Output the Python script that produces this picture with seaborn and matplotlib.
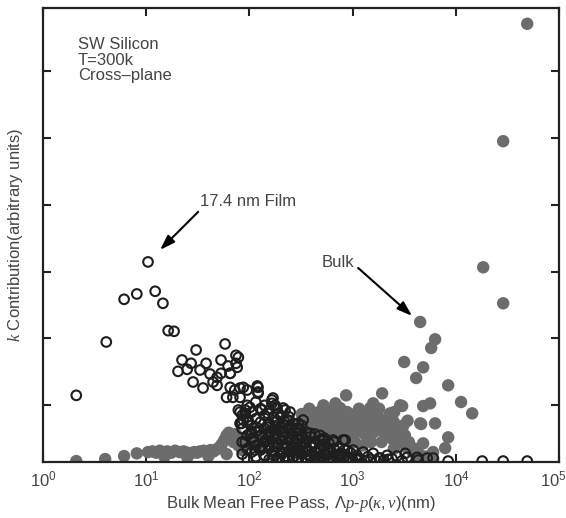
import matplotlib
matplotlib.use("Agg")
import matplotlib.pyplot as plt
import matplotlib.transforms as mtransforms
import seaborn as sns
from matplotlib.ticker import NullLocator, LogFormatterMathtext

# ---------------- data ----------------
# Bulk silicon: mean free path (nm) and k contribution (arbitrary units)
bulk_x = [48980, 28650, 18360, 28650, 4500, 6280, 5750, 3150, 4810, 4114,
          8400, 11200, 14350, 5620, 4810, 6280, 4600, 8400, 7860, 4810,
          1928, 3010, 2303, 2520, 2303, 863, 755, 1577, 2880, 1318,
          2303, 4500, 565, 483, 1180, 1475, 2154, 4300, 6010, 5260,
          2.1, 4.0, 6.1, 8.1, 10.4, 11.5, 12.5, 13.5, 14.5, 16,
          17.5, 19, 21, 23, 25, 27, 29, 31, 33, 36,
          39, 42, 45, 48, 51, 54, 57, 60, 63, 66,
          70, 74, 78, 82, 88, 95, 100, 110, 120, 135,
          150, 170, 190, 210, 240, 270, 300, 330, 360, 400,
          450, 500, 540, 600, 650, 700, 760, 810, 900, 950,
          1000, 1100, 1200, 1300, 1400, 1700, 1850, 2000, 2150, 2400,
          2700, 3200, 3500, 4000, 4400, 5000, 6000, 15, 25, 40,
          60, 85, 130, 180, 260, 350, 430, 520, 620, 720,
          820, 1050, 1250, 1600, 1900, 2600, 3300, 3800,
          320, 380, 420, 470, 520, 560, 640, 680, 740, 780,
          880, 980, 1050, 1150, 1250, 1350, 1500, 1650, 1800, 2000,
          2200, 2500, 2800, 3100, 3400, 3000, 2500, 1500, 800, 600,
          450, 300, 250, 200, 160]
bulk_y = [6.57, 4.81, 2.92, 2.38, 2.10, 1.84, 1.71, 1.50, 1.42, 1.26,
          1.15, 0.90, 0.73, 0.88, 0.84, 0.58, 0.57, 0.37, 0.21, 0.28,
          1.03, 0.84, 0.67, 0.75, 0.52, 1.00, 0.81, 0.88, 0.85, 0.66,
          0.73, 0.58, 0.67, 0.66, 0.66, 0.81, 0.40, 0.10, 0.05, 0.08,
          0.015, 0.045, 0.09, 0.13, 0.15, 0.16, 0.14, 0.17, 0.15, 0.16,
          0.14, 0.17, 0.15, 0.16, 0.14, 0.13, 0.15, 0.14, 0.16, 0.17,
          0.15, 0.18, 0.16, 0.19, 0.22, 0.27, 0.33, 0.40, 0.44, 0.36,
          0.30, 0.42, 0.25, 0.35, 0.30, 0.38, 0.28, 0.35, 0.25, 0.32,
          0.40, 0.30, 0.42, 0.35, 0.45, 0.38, 0.55, 0.62, 0.50, 0.58,
          0.45, 0.66, 0.52, 0.48, 0.60, 0.70, 0.55, 0.62, 0.45, 0.52,
          0.38, 0.48, 0.60, 0.42, 0.70, 0.55, 0.65, 0.45, 0.58, 0.35,
          0.50, 0.40, 0.30, 0.20, 0.12, 0.08, 0.15, 0.08, 0.07, 0.09,
          0.12, 0.18, 0.22, 0.28, 0.30, 0.45, 0.40, 0.35, 0.30, 0.42,
          0.35, 0.30, 0.25, 0.45, 0.30, 0.28, 0.22, 0.15,
          0.72, 0.80, 0.68, 0.75, 0.85, 0.78, 0.72, 0.88, 0.80, 0.68,
          0.75, 0.62, 0.72, 0.80, 0.68, 0.55, 0.62, 0.72, 0.80, 0.60,
          0.50, 0.60, 0.45, 0.55, 0.62, 0.30, 0.20, 0.30, 0.45, 0.55,
          0.60, 0.45, 0.55, 0.52, 0.48]

# 17.4 nm film: mean free path (nm) and k contribution (arbitrary units)
film_x = [2.1, 4.1, 6.1, 8.1, 10.4, 12.2, 14.5, 16.3, 18.6, 30.4,
          58, 74, 78, 22.2, 27.2, 20.3, 24.9, 33.2, 38, 53,
          74, 62, 76, 41.5, 48.5, 53, 65, 28.4, 44.4, 48.5,
          35.5, 65, 72, 87, 95, 119, 121, 60, 69, 81,
          169, 165, 78, 91, 101, 87, 81, 165,
          65, 81, 121, 121, 165, 177, 81, 91, 97, 132,
          151, 189, 221, 84, 101, 108, 121, 135, 151, 177,
          208, 236, 258, 296, 132, 169, 207, 247, 324, 387,
          169, 212, 277, 346, 413, 462, 113, 91, 505,
          517, 646, 844, 565, 755, 1009, 1261, 1577, 2154, 2692,
          3367, 4207, 1104, 1844, 3220, 483, 212, 247, 331, 309,
          517, 807, 883, 4300, 5260, 6010, 8400, 17950, 28650, 48980,
          105, 110, 118, 125, 130, 138, 142, 150, 155, 160,
          168, 172, 180, 185, 190, 198, 205, 210, 218, 225,
          232, 240, 248, 255, 262, 270, 280, 290, 300, 310,
          320, 335, 350, 365, 380, 400, 420, 440, 460, 490,
          520, 550, 580, 620, 660, 700, 750, 800, 860, 920,
          1000, 1150, 1300, 1500, 1700, 2000, 2400, 3000,
          85, 85, 85, 85, 95, 95, 95, 95, 95,
          105, 105, 105, 105, 115, 115, 115, 115, 115,
          128, 128, 128, 128, 140, 140, 140, 140, 140,
          155, 155, 155, 155, 155, 170, 170, 170, 170,
          185, 185, 185, 185, 185, 200, 200, 200, 200,
          220, 220, 220, 220, 240, 240, 240, 240, 240,
          265, 265, 265, 265, 290, 290, 290, 290,
          320, 320, 320, 320, 320, 355, 355, 355, 355,
          390, 390, 390, 430, 430, 430, 430, 480, 480, 480,
          530, 530, 530, 530, 590, 590, 590, 660, 660, 660,
          740, 740, 740, 830, 830, 950, 950, 1100, 1100,
          1400, 1800, 2200]
film_y = [1.00, 1.80, 2.44, 2.52, 3.00, 2.56, 2.38, 1.97, 1.96, 1.68,
          1.77, 1.60, 1.57, 1.53, 1.48, 1.36, 1.39, 1.38, 1.48, 1.53,
          1.48, 1.44, 1.42, 1.32, 1.27, 1.33, 1.33, 1.20, 1.20, 1.15,
          1.11, 1.12, 1.08, 1.12, 1.08, 1.14, 1.05, 0.97, 0.97, 0.97,
          0.96, 0.88, 0.78, 0.78, 0.82, 0.63, 0.58, 0.03,
          1.33, 1.11, 1.12, 1.03, 0.93, 0.85, 0.75, 0.73, 0.63, 0.78,
          0.73, 0.73, 0.78, 0.58, 0.43, 0.36, 0.48, 0.37, 0.52, 0.52,
          0.58, 0.63, 0.51, 0.58, 0.22, 0.28, 0.33, 0.36, 0.37, 0.43,
          0.03, 0.15, 0.18, 0.22, 0.28, 0.18, 0.18, 0.30, 0.07,
          0.33, 0.33, 0.33, 0.18, 0.13, 0.18, 0.15, 0.13, 0.10, 0.09,
          0.07, 0.07, 0.06, 0.06, 0.13, 0.40, 0.81, 0.75, 0.63, 0.48,
          0.33, 0.33, 0.18, 0.03, 0.06, 0.06, 0.015, 0.015, 0.015, 0.015,
          0.45, 0.30, 0.52, 0.20, 0.40, 0.10, 0.33, 0.55, 0.25, 0.45,
          0.15, 0.35, 0.60, 0.05, 0.28, 0.48, 0.12, 0.38, 0.22, 0.55,
          0.08, 0.32, 0.18, 0.42, 0.05, 0.27, 0.14, 0.36, 0.06, 0.24,
          0.12, 0.30, 0.04, 0.18, 0.09, 0.22, 0.03, 0.14, 0.07, 0.20,
          0.02, 0.11, 0.05, 0.15, 0.03, 0.09, 0.04, 0.12, 0.02, 0.06,
          0.03, 0.05, 0.02, 0.04, 0.02, 0.03, 0.05, 0.02,
          0.70, 0.50, 0.30, 0.12, 0.85, 0.60, 0.40, 0.20, 0.05,
          0.75, 0.55, 0.35, 0.15, 0.90, 0.65, 0.45, 0.25, 0.08,
          0.80, 0.60, 0.40, 0.18, 0.70, 0.50, 0.30, 0.10, 0.85,
          0.78, 0.58, 0.38, 0.20, 0.04, 0.68, 0.48, 0.28, 0.10,
          0.80, 0.62, 0.42, 0.22, 0.06, 0.70, 0.52, 0.32, 0.14,
          0.60, 0.44, 0.26, 0.08, 0.68, 0.50, 0.34, 0.16, 0.03,
          0.58, 0.40, 0.22, 0.07, 0.50, 0.34, 0.18, 0.05,
          0.55, 0.40, 0.26, 0.12, 0.02, 0.45, 0.30, 0.16, 0.06,
          0.38, 0.24, 0.10, 0.42, 0.28, 0.15, 0.04, 0.33, 0.20, 0.08,
          0.36, 0.24, 0.12, 0.03, 0.28, 0.16, 0.06, 0.30, 0.20, 0.10,
          0.22, 0.12, 0.04, 0.18, 0.08, 0.14, 0.05, 0.10, 0.03,
          0.08, 0.06, 0.04]

x_tick_values = [1, 10, 100, 1000, 10000, 100000]
y_tick_values = [0.855, 1.855, 2.855, 3.855, 4.855, 5.855]

# ---------------- styling ----------------
sns.set_style("ticks")
plt.rcParams['font.family'] = ['Liberation Sans', 'DejaVu Sans']
plt.rcParams['mathtext.fontset'] = 'custom'
plt.rcParams['mathtext.rm'] = 'Liberation Sans'
plt.rcParams['mathtext.it'] = 'Liberation Serif:italic'
plt.rcParams['mathtext.cal'] = 'Liberation Serif'

fig = plt.figure(figsize=(5.66, 5.18), dpi=100)
ax = fig.add_axes([0.076, 0.108, 0.912, 0.877])

sns.scatterplot(x=bulk_x, y=bulk_y, ax=ax, s=80, color="#6c6c6c",
                edgecolor="none", linewidth=0, zorder=2)
sns.scatterplot(x=film_x, y=film_y, ax=ax, s=48, facecolor="none",
                edgecolor="#1e1e1e", linewidth=1.5, zorder=3)

ax.set_xscale("log")
ax.set_xlim(1, 1e5)
ax.set_ylim(0, 6.81)
ax.set_xticks(x_tick_values)
ax.xaxis.set_major_formatter(LogFormatterMathtext())
ax.xaxis.set_minor_locator(NullLocator())
ax.set_yticks(y_tick_values)
ax.set_yticklabels([])

for sp in ax.spines.values():
    sp.set_linewidth(1.6)
    sp.set_color("#222222")
    sp.set_visible(True)
ax.tick_params(axis="both", which="major", direction="in", length=6,
               width=1.5, top=True, right=True, color="#222222",
               labelsize=12, labelcolor="#444444", pad=5)

# keep the last x tick label inside the canvas
last_lbl = ax.get_xticklabels()[-1]
last_lbl.set_transform(last_lbl.get_transform() +
                       mtransforms.ScaledTranslation(-0.06, 0, fig.dpi_scale_trans))

ax.set_xlabel(r"Bulk Mean Free Pass, $\Lambda p$-$p(\kappa,\nu)$(nm)",
              fontsize=12, color="#444444", labelpad=4)
ax.set_ylabel(r"$k$ Contribution(arbitrary units)", fontsize=12,
              color="#444444", labelpad=8)

ax.text(0.068, 0.935, "SW Silicon\nT=300k\nCross\u2013plane",
        transform=ax.transAxes, ha="left", va="top", fontsize=12,
        color="#444444", linespacing=1.05)

arrow_style = dict(arrowstyle="-|>,head_length=0.9,head_width=0.3",
                   color="black", lw=1.5, shrinkA=0, shrinkB=0)
ax.annotate("", xy=(13.6, 3.18), xytext=(31.8, 3.75), arrowprops=arrow_style)
ax.text(33.2, 3.90, "17.4 nm Film", ha="left", va="center", fontsize=12,
        color="#444444")
ax.annotate("", xy=(3765, 2.19), xytext=(1128, 2.91), arrowprops=arrow_style)
ax.text(722, 2.99, "Bulk", ha="center", va="center", fontsize=12,
        color="#444444")

fig.savefig("out.png", dpi=100)
